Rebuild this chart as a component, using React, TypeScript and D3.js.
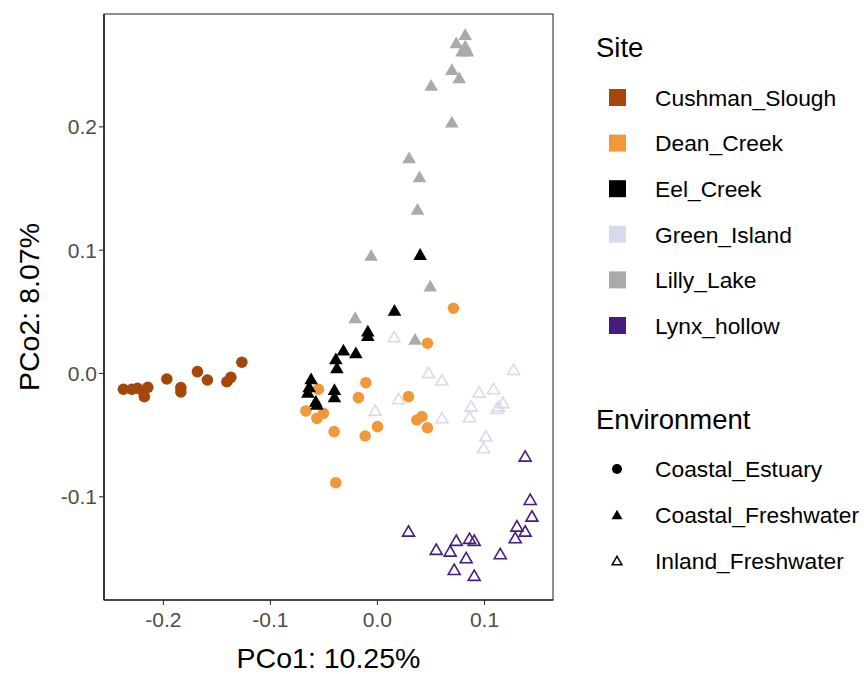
import React from "react";
import * as d3 from "d3";

// ---- data (PCo1, PCo2) ----
const sites = ["Cushman_Slough", "Dean_Creek", "Eel_Creek", "Green_Island", "Lilly_Lake", "Lynx_hollow"];
const siteColors = ["#a3470b", "#f1993a", "#000000", "#d8daeb", "#aaaaaa", "#481c7e"];
const environments = ["Coastal_Estuary", "Coastal_Freshwater", "Inland_Freshwater"];
const siteEnv = ["Coastal_Estuary", "Coastal_Estuary", "Coastal_Freshwater", "Inland_Freshwater", "Coastal_Freshwater", "Inland_Freshwater"];

const cushmanSlough: [number, number][] = [
  [-0.2374, -0.0128], [-0.2295, -0.0128], [-0.2243, -0.012], [-0.2187, -0.0148],
  [-0.2146, -0.0112], [-0.2178, -0.0188], [-0.1968, -0.0045], [-0.1837, -0.0114],
  [-0.1837, -0.015], [-0.1682, 0.0015], [-0.1589, -0.0053], [-0.1407, -0.0067],
  [-0.137, -0.0031], [-0.1267, 0.0091],
];
const deanCreek: [number, number][] = [
  [0.071, 0.0529], [0.0467, 0.0245], [-0.0108, -0.0075], [-0.0551, -0.0128],
  [-0.0178, -0.0196], [0.029, -0.0188], [-0.0669, -0.0304], [-0.0566, -0.0364],
  [-0.0505, -0.0323], [-0.0405, -0.0472], [-0.0115, -0.0507], [0.0, -0.0431],
  [0.0368, -0.0377], [0.0415, -0.035], [0.0467, -0.044], [-0.0389, -0.0886],
];
const eelCreek: [number, number][] = [
  [0.0399, 0.0961], [0.0159, 0.0507], [-0.009, 0.0339], [-0.009, 0.0304],
  [-0.0318, 0.0185], [-0.0202, 0.0164], [-0.0389, 0.0115], [-0.0379, 0.0042],
  [-0.062, -0.0047], [-0.0638, -0.0112], [-0.065, -0.0156], [-0.0402, -0.0134],
  [-0.0402, -0.0193], [-0.0576, -0.0229], [-0.0566, -0.0255],
];
const greenIsland: [number, number][] = [
  [0.0156, 0.0294], [0.0477, 0.0002], [0.0602, -0.0058], [0.0196, -0.0209],
  [-0.0021, -0.0304], [0.0602, -0.0363], [0.1271, 0.0028], [0.095, -0.0156],
  [0.1084, -0.0128], [0.0876, -0.0269], [0.1131, -0.0269], [0.1172, -0.0242],
  [0.1116, -0.0288], [0.086, -0.0355], [0.1013, -0.0512], [0.0991, -0.0607],
];
const lillyLake: [number, number][] = [
  [0.082, 0.2745], [0.0736, 0.2678], [0.082, 0.265], [0.0789, 0.261],
  [0.0841, 0.261], [0.0695, 0.2461], [0.0764, 0.2394], [0.0502, 0.2332],
  [0.0695, 0.2034], [0.0296, 0.1745], [0.0393, 0.1591], [0.0374, 0.1326],
  [-0.0059, 0.0953], [0.0493, 0.0704], [-0.0208, 0.0448], [0.0352, 0.0272],
];
const lynxHollow: [number, number][] = [
  [0.138, -0.0675], [0.1427, -0.1026], [0.1443, -0.1161], [0.1303, -0.1242],
  [0.138, -0.1283], [0.1287, -0.1337], [0.029, -0.1283], [0.0549, -0.1431],
  [0.0679, -0.1445], [0.0736, -0.1358], [0.086, -0.1342], [0.0904, -0.1358],
  [0.0829, -0.1499], [0.0717, -0.1594], [0.0904, -0.1642], [0.1147, -0.1466],
];
const siteData = [cushmanSlough, deanCreek, eelCreek, greenIsland, lillyLake, lynxHollow];

const xTicks = [-0.2, -0.1, 0.0, 0.1];
const yTicks = [-0.1, 0.0, 0.1, 0.2];
const xTitle = "PCo1: 10.25%";
const yTitle = "PCo2: 8.07%";

// ---- layout ----
const W = 864, H = 674;
const L = 104, R = 553, T = 14, B = 600;
const FONT = "'Liberation Sans', Arial, Helvetica, sans-serif";

const x = d3.scaleLinear().domain([-0.2555, 0.164]).range([L, R]);
const y = d3.scaleLinear().domain([-0.1837, 0.2915]).range([B, T]);

const triPath = (size: number) => d3.symbol().type(d3.symbolTriangle).size(size)() as string;
const TRI = triPath(80);
const TRI_OPEN = triPath(62);
const TRI_LEG = triPath(52);
const TRI_LEG_OPEN = triPath(42);

const fmt = (v: number) => v.toFixed(1);

function Mark({ px, py, color, env }: { px: number; py: number; color: string; env: string }) {
  if (env === "Coastal_Estuary") return <circle cx={px} cy={py} r={5.8} fill={color} />;
  if (env === "Coastal_Freshwater")
    return <path d={TRI} transform={`translate(${px},${py + 1})`} fill={color} />;
  return <path d={TRI_OPEN} transform={`translate(${px},${py + 1})`} fill="none" stroke={color} strokeWidth={1.6} />;
}

export default function App() {
  return (
    <svg width={W} height={H} style={{ display: "block", position: "absolute", left: 0, top: 0 }} fontFamily={FONT}>
      <rect width={W} height={H} fill="#fff" />
      {/* points */}
      {siteData.map((pts, si) =>
        pts.map((p, i) => (
          <Mark key={`${si}-${i}`} px={x(p[0])} py={y(p[1])} color={siteColors[si]} env={siteEnv[si]} />
        ))
      )}
      {/* panel border */}
      <rect x={L} y={T} width={R - L} height={B - T} fill="none" stroke="#333" strokeWidth={1.1} />
      <line x1={L} x2={R} y1={B} y2={B} stroke="#000" strokeWidth={1.2} />
      <line x1={L} x2={L} y1={T} y2={B} stroke="#000" strokeWidth={1.2} />
      {/* x axis */}
      {xTicks.map((t) => (
        <g key={t}>
          <line x1={x(t)} x2={x(t)} y1={B} y2={B + 5} stroke="#333" strokeWidth={1.1} />
          <text x={x(t)} y={B + 27} textAnchor="middle" fontSize={21} fill="#4d4d4d">
            {fmt(t)}
          </text>
        </g>
      ))}
      {/* y axis */}
      {yTicks.map((t) => (
        <g key={t}>
          <line x1={L - 5} x2={L} y1={y(t)} y2={y(t)} stroke="#333" strokeWidth={1.1} />
          <text x={L - 7} y={y(t) + 7.5} textAnchor="end" fontSize={21} fill="#4d4d4d">
            {fmt(t)}
          </text>
        </g>
      ))}
      <text x={(L + R) / 2} y={668} textAnchor="middle" fontSize={28.5} fill="#000">
        {xTitle}
      </text>
      <text transform={`translate(39,${(T + B) / 2}) rotate(-90)`} textAnchor="middle" fontSize={28.5} fill="#000">
        {yTitle}
      </text>
      {/* legend: Site */}
      <text x={596} y={57} fontSize={27.5} fill="#000">Site</text>
      {sites.map((s, i) => {
        const cy = 97.5 + i * 45.6;
        return (
          <g key={s}>
            <rect x={609} y={cy - 8.5} width={17} height={17} fill={siteColors[i]} />
            <text x={655} y={cy + 8.3} fontSize={22.8} fill="#000">{s}</text>
          </g>
        );
      })}
      {/* legend: Environment */}
      <text x={596} y={429} fontSize={27.5} fill="#000">Environment</text>
      {environments.map((e, i) => {
        const cy = 469 + i * 46;
        return (
          <g key={e}>
            {i === 0 && <circle cx={617} cy={cy} r={5} fill="#000" />}
            {i === 1 && <path d={TRI_LEG} transform={`translate(617,${cy + 1})`} fill="#000" />}
            {i === 2 && (
              <path d={TRI_LEG_OPEN} transform={`translate(617,${cy + 1})`} fill="none" stroke="#000" strokeWidth={1.5} />
            )}
            <text x={655} y={cy + 8.3} fontSize={22.8} fill="#000">{e}</text>
          </g>
        );
      })}
    </svg>
  );
}
